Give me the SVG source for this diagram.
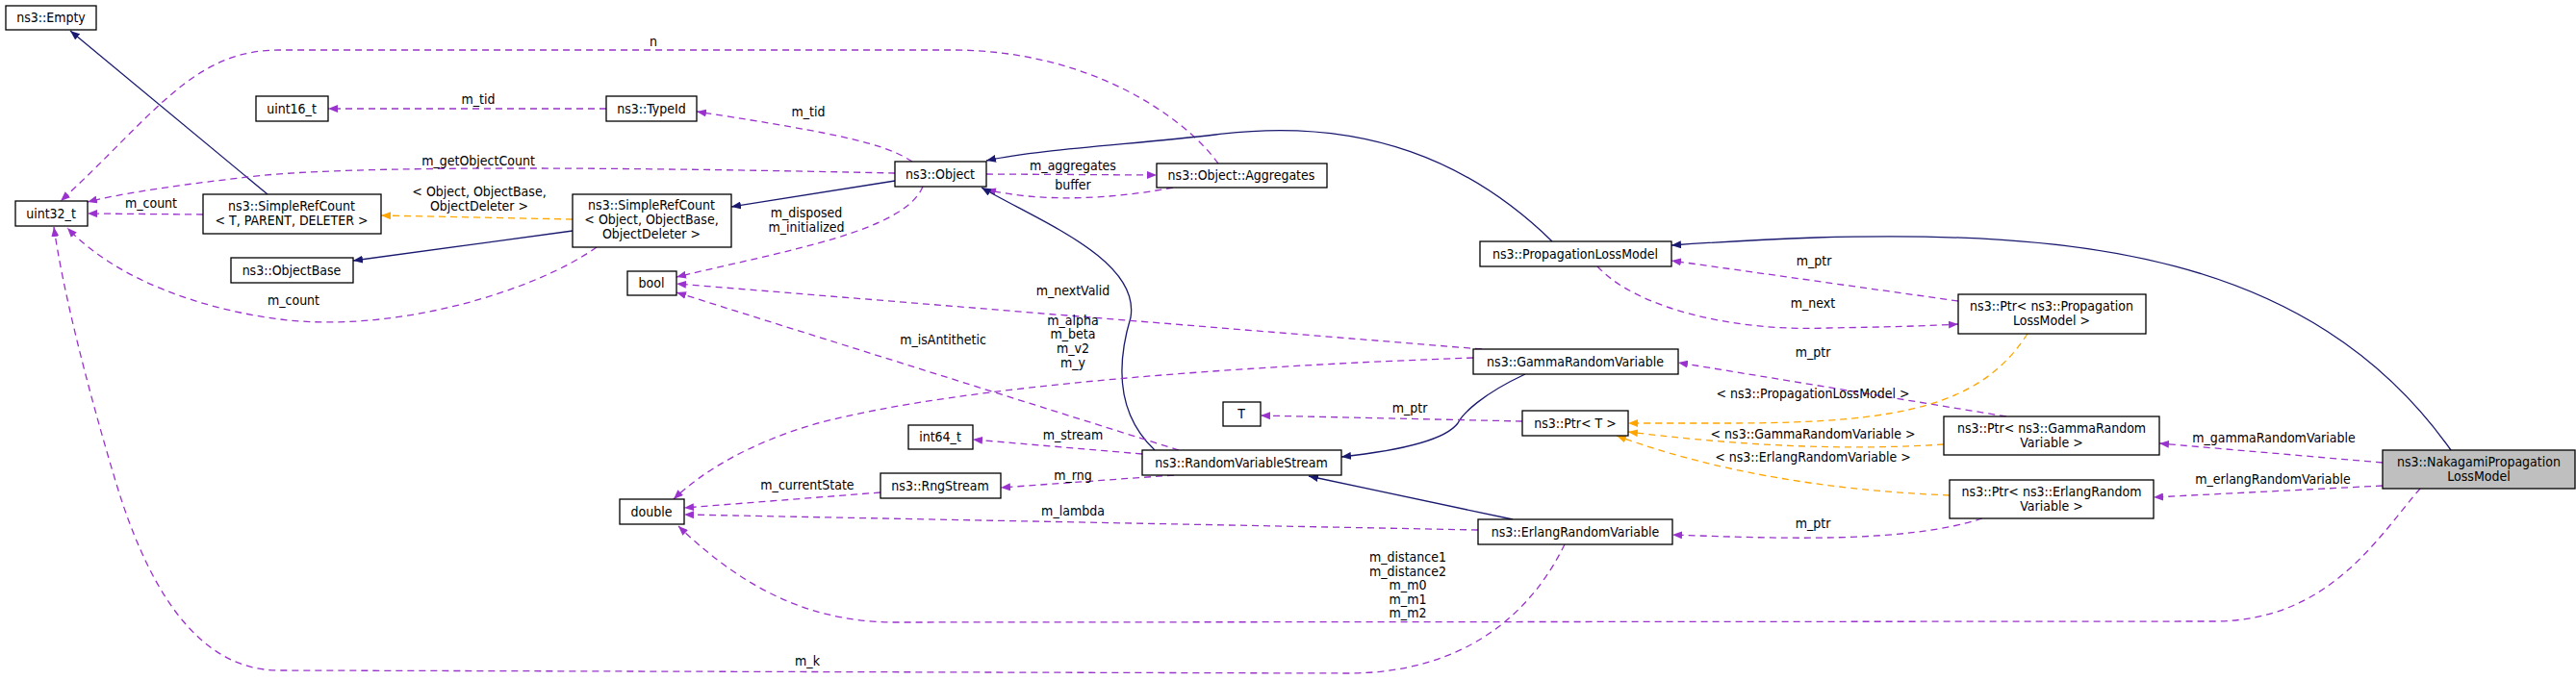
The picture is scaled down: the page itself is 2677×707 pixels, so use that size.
<svg xmlns="http://www.w3.org/2000/svg" width="2677" height="707" viewBox="0 0 2677 707">
<style>
text{font-family:"DejaVu Sans Condensed","DejaVu Sans",sans-serif;font-stretch:condensed;font-size:14px;fill:#000;text-anchor:middle}
.n rect{fill:#fff;stroke:#000;stroke-width:1.3}
.g rect{fill:#bfbfbf}
.i{fill:none;stroke:#191970;stroke-width:1.3;marker-end:url(#ai)}
.u{fill:none;stroke:#9a32cd;stroke-width:1.3;stroke-dasharray:7,5;marker-end:url(#au)}
.t{fill:none;stroke:#ffa500;stroke-width:1.3;stroke-dasharray:7,5;marker-end:url(#at)}
</style>
<defs>
<marker id="ai" viewBox="0 0 10 8" refX="10" refY="4" markerWidth="10" markerHeight="8" markerUnits="userSpaceOnUse" orient="auto"><path d="M0,0L10,4L0,8z" fill="#191970"/></marker>
<marker id="au" viewBox="0 0 10 8" refX="10" refY="4" markerWidth="10" markerHeight="8" markerUnits="userSpaceOnUse" orient="auto"><path d="M0,0L10,4L0,8z" fill="#9a32cd"/></marker>
<marker id="at" viewBox="0 0 10 8" refX="10" refY="4" markerWidth="10" markerHeight="8" markerUnits="userSpaceOnUse" orient="auto"><path d="M0,0L10,4L0,8z" fill="#ffa500"/></marker>
</defs>
<rect width="2677" height="707" fill="#fff"/>
<g id="edges">
<path class="i" d="M278,202L73,32"/>
<path class="u" d="M211,223L91,222"/><text x="157" y="216">m_count</text>
<path class="t" d="M595,228L396,224"/><text x="498" y="204">&lt; Object, ObjectBase,</text><text x="498" y="219">ObjectDeleter &gt;</text>
<path class="i" d="M595,240L367,271"/>
<path class="u" d="M620,257C560,300 420,345 300,333C210,323 120,290 70,237"/><text x="305" y="317">m_count</text>
<path class="i" d="M930,188L760,215"/>
<path class="u" d="M930,180C700,175 350,170 250,185C160,195 110,205 91,210"/><text x="497" y="172">m_getObjectCount</text>
<path class="u" d="M948,168C920,150 880,140 724,116"/><text x="840" y="121">m_tid</text>
<path class="u" d="M630,113L341,113"/><text x="497" y="108">m_tid</text>
<path class="u" d="M959,194C940,240 820,260 703,288"/><text x="838" y="226">m_disposed</text><text x="838" y="241">m_initialized</text>
<path class="u" d="M1025,181L1202,182"/><text x="1115" y="177">m_aggregates</text>
<path class="u" d="M1219,195C1150,208 1080,210 1025,197"/><text x="1115" y="197">buffer</text>
<path class="u" d="M1266,170C1230,120 1130,52 990,52L290,52C200,52 160,120 63,209"/><text x="679" y="48">n</text>
<path class="i" d="M1200,468C1160,430 1160,380 1175,330C1185,270 1080,230 1020,195"/>
<path class="i" d="M1613,251C1530,170 1420,120 1263,140C1180,150 1080,155 1025,167"/>
<path class="i" d="M2547,468C2400,260 2150,240 1887,247C1830,249 1780,252 1737,255"/>
<path class="u" d="M2035,313L1737,271"/><text x="1885" y="276">m_ptr</text>
<path class="u" d="M1660,277C1700,320 1800,345 1900,341C1960,340 2000,339 2035,337"/><text x="1884" y="320">m_next</text>
<path class="u" d="M1540,363L703,295"/><text x="1115" y="307">m_nextValid</text>
<path class="u" d="M1531,372C1300,380 1000,400 850,440C780,460 730,490 700,519"/><text x="1115" y="338">m_alpha</text><text x="1115" y="352">m_beta</text><text x="1115" y="367">m_v2</text><text x="1115" y="382">m_y</text>
<path class="u" d="M1225,468L703,304"/><text x="980" y="358">m_isAntithetic</text>
<path class="i" d="M1572,540L1360,495"/>
<path class="i" d="M1585,389C1540,410 1520,430 1515,440C1500,460 1440,470 1394,475"/>
<path class="u" d="M1582,438L1310,432"/><text x="1465" y="429">m_ptr</text>
<path class="u" d="M1187,472L1011,457"/><text x="1115" y="457">m_stream</text>
<path class="u" d="M1220,494L1040,507"/><text x="1115" y="499">m_rng</text>
<path class="u" d="M915,512L711,528"/><text x="839" y="509">m_currentState</text>
<path class="u" d="M1536,551L711,535"/><text x="1115" y="536">m_lambda</text>
<path class="u" d="M1626,566C1590,640 1520,700 1400,700L290,697C200,697 150,600 120,500C90,400 65,300 56,236"/><text x="839" y="692">m_k</text>
<path class="u" d="M2515,508C2470,560 2420,646 2300,646L930,647C830,647 760,600 705,547"/>
<text x="1463" y="584">m_distance1</text><text x="1463" y="599">m_distance2</text><text x="1463" y="613">m_m0</text><text x="1463" y="628">m_m1</text><text x="1463" y="642">m_m2</text>
<path class="u" d="M2085,433L1744,377"/><text x="1884" y="371">m_ptr</text>
<path class="u" d="M2060,539C1980,565 1850,560 1738,556"/><text x="1884" y="549">m_ptr</text>
<path class="u" d="M2476,481L2244,461"/><text x="2363" y="460">m_gammaRandomVariable</text>
<path class="u" d="M2476,505L2238,517"/><text x="2362" y="503">m_erlangRandomVariable</text>
<path class="t" d="M2107,347C2060,420 1980,440 1800,440L1692,440"/><text x="1884" y="414">&lt; ns3::PropagationLossModel &gt;</text>
<path class="t" d="M2020,462C1900,470 1780,460 1692,449"/><text x="1884" y="456">&lt; ns3::GammaRandomVariable &gt;</text>
<path class="t" d="M2026,515C1900,510 1780,490 1680,453"/><text x="1884" y="480">&lt; ns3::ErlangRandomVariable &gt;</text>
</g>
<g id="empty" class="n"><rect x="6" y="6" width="94" height="25"/><text x="53" y="23">ns3::Empty</text></g>
<g id="uint32" class="n"><rect x="16" y="209" width="75" height="26"/><text x="53" y="227">uint32_t</text></g>
<g id="srcT" class="n"><rect x="211" y="202" width="185" height="41"/><text x="303" y="219">ns3::SimpleRefCount</text><text x="303" y="234">&lt; T, PARENT, DELETER &gt;</text></g>
<g id="objectbase" class="n"><rect x="240" y="268" width="127" height="26"/><text x="303" y="286">ns3::ObjectBase</text></g>
<g id="uint16" class="n"><rect x="266" y="100" width="75" height="26"/><text x="303" y="118">uint16_t</text></g>
<g id="typeid" class="n"><rect x="630" y="100" width="94" height="26"/><text x="677" y="118">ns3::TypeId</text></g>
<g id="srcObj" class="n"><rect x="595" y="202" width="165" height="55"/><text x="677" y="218">ns3::SimpleRefCount</text><text x="677" y="233">&lt; Object, ObjectBase,</text><text x="677" y="248">ObjectDeleter &gt;</text></g>
<g id="bool" class="n"><rect x="652" y="282" width="51" height="25"/><text x="677" y="299">bool</text></g>
<g id="object" class="n"><rect x="930" y="168" width="95" height="26"/><text x="977" y="186">ns3::Object</text></g>
<g id="aggregates" class="n"><rect x="1202" y="170" width="177" height="25"/><text x="1290" y="187">ns3::Object::Aggregates</text></g>
<g id="plm" class="n"><rect x="1538" y="251" width="199" height="26"/><text x="1637" y="269">ns3::PropagationLossModel</text></g>
<g id="ptrplm" class="n"><rect x="2035" y="306" width="195" height="41"/><text x="2132" y="323">ns3::Ptr&lt; ns3::Propagation</text><text x="2132" y="338">LossModel &gt;</text></g>
<g id="gamma" class="n"><rect x="1531" y="363" width="213" height="26"/><text x="1637" y="381">ns3::GammaRandomVariable</text></g>
<g id="T" class="n"><rect x="1271" y="418" width="39" height="25"/><text x="1290" y="435">T</text></g>
<g id="ptrT" class="n"><rect x="1582" y="427" width="110" height="26"/><text x="1637" y="445">ns3::Ptr&lt; T &gt;</text></g>
<g id="int64" class="n"><rect x="944" y="442" width="67" height="25"/><text x="977" y="459">int64_t</text></g>
<g id="rvs" class="n"><rect x="1187" y="468" width="207" height="26"/><text x="1290" y="486">ns3::RandomVariableStream</text></g>
<g id="rng" class="n"><rect x="915" y="492" width="125" height="26"/><text x="977" y="510">ns3::RngStream</text></g>
<g id="double" class="n"><rect x="644" y="519" width="67" height="26"/><text x="677" y="537">double</text></g>
<g id="erlang" class="n"><rect x="1536" y="540" width="202" height="26"/><text x="1637" y="558">ns3::ErlangRandomVariable</text></g>
<g id="ptrgamma" class="n"><rect x="2020" y="433" width="224" height="40"/><text x="2132" y="450">ns3::Ptr&lt; ns3::GammaRandom</text><text x="2132" y="465">Variable &gt;</text></g>
<g id="ptrerlang" class="n"><rect x="2026" y="499" width="212" height="40"/><text x="2132" y="516">ns3::Ptr&lt; ns3::ErlangRandom</text><text x="2132" y="531">Variable &gt;</text></g>
<g id="nakagami" class="n g"><rect x="2476" y="468" width="200" height="40"/><text x="2576" y="485">ns3::NakagamiPropagation</text><text x="2576" y="500">LossModel</text></g>
</svg>
